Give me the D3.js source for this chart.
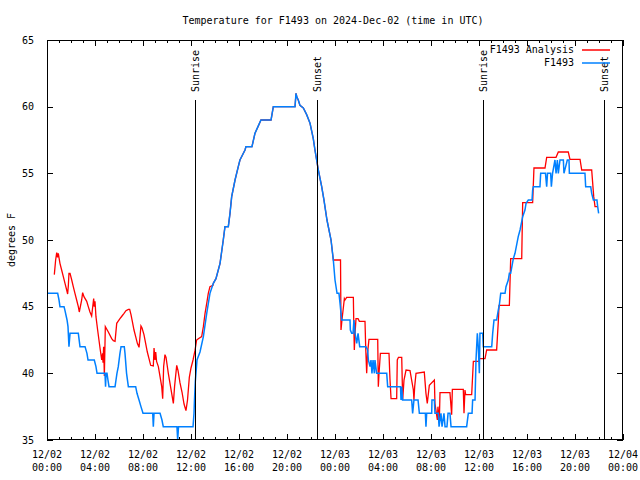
<!DOCTYPE html>
<html>
<head>
<meta charset="utf-8">
<script src="https://cdn.jsdelivr.net/npm/d3@7"></script>
<style>
  html, body { margin: 0; padding: 0; background: #fff; }
  svg { display: block; }
  text { font-family: "DejaVu Sans Mono", "Liberation Mono", monospace; font-size: 10px; fill: #000; }
</style>
</head>
<body>
<svg id="chart" width="640" height="480"></svg>
<script>
// ---------- data (hours since 2024-12-02 00:00 UTC, degrees F) ----------
const titleText = "Temperature for F1493 on 2024-Dec-02 (time in UTC)";
const yLabel = "degrees F";
const seriesNames = ["F1493 Analysis", "F1493"];
const seriesColors = ["#ff0000", "#0080ff"];
const yTicks = [35, 40, 45, 50, 55, 60, 65];

const sunHours = [12.33, 22.5, 36.33, 46.42];
const sunLabels = ["Sunrise", "Sunset", "Sunrise", "Sunset"];

const obsHours = [0.06,0.89,1.0,1.08,1.42,1.5,1.67,1.75,1.83,1.92,2.61,2.75,3.17,3.33,3.42,3.94,4.08,4.17,4.83,4.88,4.92,5.0,5.08,5.17,5.67,5.75,5.83,5.94,6.08,6.17,6.44,6.5,6.63,6.78,7.39,7.5,7.67,7.83,8.0,8.81,8.86,8.92,9.42,9.58,9.69,10.83,10.89,10.96,12.17,12.25,12.29,12.36,12.5,12.75,13.03,13.31,13.58,13.86,14.08,14.42,14.69,14.83,15.11,15.25,15.39,15.67,15.94,16.08,16.5,16.58,17.08,17.33,17.58,17.83,18.67,18.86,20.67,20.75,20.83,20.94,21.08,21.36,21.64,21.92,22.19,22.33,22.47,22.61,22.89,23.08,23.33,23.67,23.86,24.0,24.17,24.33,24.42,24.5,24.56,25.25,25.28,25.39,25.5,25.58,25.67,25.81,25.92,26.06,26.58,26.72,26.78,26.92,27.0,27.08,27.17,27.28,27.33,27.47,28.31,28.39,29.42,29.46,29.5,29.56,29.63,30.39,30.47,30.58,30.92,31.03,31.53,31.58,31.64,32.06,32.08,32.28,32.33,32.61,32.67,32.83,32.92,33.08,33.17,33.33,33.42,33.58,33.67,34.97,35.11,35.42,35.47,35.67,35.75,35.86,35.94,36.03,36.08,36.31,36.36,37.06,37.14,37.25,37.47,37.61,37.69,37.81,38.17,38.25,38.44,38.53,38.64,38.86,39.0,39.27,39.42,39.64,39.83,39.92,40.11,40.42,40.47,40.53,41.08,41.14,41.54,41.64,41.71,41.97,42.03,42.13,42.33,42.42,42.53,42.61,42.75,43.03,43.08,43.36,43.5,43.53,44.83,44.89,45.31,45.39,45.53,45.83,45.89,45.97];
const obsTemps = [46,46,45.5,45,45,44.7,44,43.5,42,43,43,42,42,41.5,41,41,40.5,40,40,39,40,40,39.5,39,39,39.5,40,40.5,41.5,42,42,41.5,40,39,39,38.5,38,37.5,37,37,36,37,37,36.5,36,36,35,36,36,37,38,39.4,41,41.6,42.75,44.5,46,46.75,47.1,48.25,50,51,51,52,53.25,54.5,55.5,56,56.75,57,57,58,58.5,59,59,60,60,61,60.7,60.5,60.1,59.9,59.4,58.75,57.6,56.75,56,55.25,54,53,51.5,50,48.5,47,46,46,45.25,44.5,44,44,43.25,43,43,44,43,42.25,43,42,42,41.75,41,40.5,41,40,41,40,41,40,40,39,39,39,38,39,38,38,37,38,38,37,37,36,37,37,38,38,37,37,36,37,36,37,36,36,37,37,36,36,37,37,38,38,41,43,42,40,43,43,42,42,43,44,44,44.75,45.1,46,46,46.5,47,47.5,47.5,48.6,49,50.25,50.75,51.75,52.25,52.75,53,53,53.75,54,54,55,55,54,55,55,54,55,56,55,56,55,56,56,55,56,56,55,55,54,54,53.5,53,53,52.5,52];

const anaHours = [0.61,0.72,0.81,0.88,0.94,1.08,1.22,1.36,1.5,1.64,1.72,1.78,1.83,1.92,2.06,2.19,2.33,2.47,2.61,2.69,2.89,2.97,3.08,3.31,3.44,3.58,3.72,3.89,3.94,4.0,4.08,4.22,4.33,4.44,4.56,4.63,4.67,4.72,4.78,4.86,5.11,5.39,5.53,5.67,5.81,5.92,6.08,6.25,6.42,6.58,6.78,6.89,7.0,7.11,7.25,7.39,7.53,7.67,7.83,7.92,8.08,8.22,8.36,8.5,8.64,8.86,8.92,9.0,9.06,9.13,9.28,9.42,9.56,9.64,9.72,9.83,9.92,10.11,10.39,10.53,10.63,10.81,10.92,11.08,11.25,11.42,11.58,11.71,11.86,12.0,12.17,12.33,12.47,12.61,12.89,13.03,13.17,13.31,13.44,13.58,13.83,13.86,14.08,14.42,14.69,14.83,15.11,15.25,15.39,15.67,15.94,16.08,16.5,16.58,17.08,17.33,17.58,17.83,18.67,18.86,20.67,20.75,20.83,20.94,21.08,21.36,21.64,21.92,22.19,22.33,22.47,22.61,22.89,23.08,23.33,23.67,23.86,24.46,24.5,24.58,24.78,24.83,24.97,25.53,25.56,25.61,25.67,25.75,25.92,26.03,26.5,26.56,26.64,26.71,26.83,27.56,27.61,27.67,27.78,28.5,28.58,28.67,29.14,29.19,29.29,29.56,29.64,29.75,29.92,30.25,30.53,30.58,30.64,30.75,31.44,31.58,31.69,31.86,32.28,32.33,32.53,32.58,32.69,32.75,33.58,33.72,33.78,34.69,34.75,34.83,34.89,35.39,35.53,36.0,36.03,36.5,36.64,37.47,37.61,37.67,38.53,38.64,39.56,39.64,40.47,40.58,41.5,41.64,42.42,42.61,43.44,43.58,44.42,44.56,45.39,45.56,45.67,45.89];
const anaTemps = [47.4,48.5,49.05,48.7,49,48.25,47.75,47.25,46.75,46.25,45.95,46.6,47.5,47.5,47,46.5,46,45.5,45,44.6,45.5,46.05,45.75,45.4,45,44.6,44.3,45.6,45.0,45.4,44.25,43.25,42.5,41.75,41,41.5,40.8,42,39.8,43.5,43.1,42.6,42.45,42.4,43.75,43.9,44.1,44.3,44.5,44.7,44.8,44.8,44.4,43.9,43.25,42.75,42.25,41.95,43.55,43.4,42.9,42.25,41.6,41.1,40.6,40.55,41.9,41,41.6,40.9,40.5,39.75,39,38.1,40.5,41.4,41.2,40,38.5,37.75,39,40.6,40.2,39.3,38.6,37.7,37.2,38,39.7,40.4,41,41.7,42.5,42.6,42.75,43.5,44.5,45.25,46,46.5,46.6,46.75,47.1,48.25,50,51,51,52,53.25,54.5,55.5,56,56.75,57,57,58,58.5,59,59,60,60,61,60.7,60.5,60.1,59.9,59.4,58.75,57.6,56.75,56,55.25,54,53,51.5,50,48.5,48.5,43.25,44,45.6,45.5,45.7,45.7,44,41.75,43,44.1,44.1,43.9,43.9,41.9,40,41.5,42.55,42.55,39,40,41.5,41.5,39.6,38.1,38.1,41,41.2,41.2,38,39.5,40.25,40.2,38.75,38,39,40,40.1,38.5,37.75,39.1,39.5,37.75,36.5,37.5,36.25,38.55,38.55,36.9,38.8,38.8,37,38.75,38.4,38.4,40.9,40.9,41.1,41.1,41.75,41.75,43.9,45.1,45.1,48.6,48.6,52.8,52.8,55.4,55.4,56.2,56.2,56.6,56.6,56.05,56.05,55.25,55.25,53.25,52.5,52.5];

// ---------- layout ----------
const svg = d3.select("#chart");
const L = 47, R = 623, T = 40, B = 440;
const t0 = Date.UTC(2024, 11, 2);
const toDate = h => new Date(t0 + h * 3600e3);

const x = d3.scaleUtc().domain([new Date(t0), new Date(t0 + 48 * 3600e3)]).range([L, R]);
const y = d3.scaleLinear().domain([35, 65]).range([B, T]);

const anaData = anaHours.map((h, i) => ({ t: toDate(h), v: anaTemps[i] }));
const obsData = obsHours.map((h, i) => ({ t: toDate(h), v: obsTemps[i] }));

svg.append("defs").append("clipPath").attr("id", "clip")
  .append("rect").attr("x", L).attr("y", T).attr("width", R - L).attr("height", B - T);

const line = d3.line().x(d => x(d.t)).y(d => y(d.v));
const g = svg.append("g").attr("clip-path", "url(#clip)");
g.append("path").datum(anaData).attr("d", line)
  .attr("fill", "none").attr("stroke", seriesColors[0]).attr("stroke-width", 1.3);
g.append("path").datum(obsData).attr("d", line)
  .attr("fill", "none").attr("stroke", seriesColors[1]).attr("stroke-width", 1.5);

// sunrise / sunset lines
sunHours.forEach((h, i) => {
  const sx = Math.round(x(toDate(h))) + 0.5;
  svg.append("line").attr("x1", sx).attr("x2", sx).attr("y1", 100).attr("y2", B)
    .attr("stroke", "#000").attr("stroke-width", 1).attr("shape-rendering", "crispEdges");
  svg.append("text").attr("transform", `translate(${sx},92) rotate(-90)`)
    .attr("dy", "0.35em").attr("text-anchor", "start").text(sunLabels[i]);
});

// ---------- axes ----------
const majorTicks = x.ticks(d3.utcHour.every(4));
const minorTicks = x.ticks(d3.utcHour.every(1));
const fmtDate = d3.utcFormat("%m/%d"), fmtTime = d3.utcFormat("%H:%M");

const axisBottom = svg.append("g").attr("transform", `translate(0,${B})`)
  .call(d3.axisBottom(x).tickValues(majorTicks).tickSize(-6).tickFormat(""));
const axisBottomMinor = svg.append("g").attr("transform", `translate(0,${B})`)
  .call(d3.axisBottom(x).tickValues(minorTicks).tickSize(-3).tickFormat(""));
const axisTop = svg.append("g").attr("transform", `translate(0,${T})`)
  .call(d3.axisTop(x).tickValues(majorTicks).tickSize(-6).tickFormat(""));
const axisTopMinor = svg.append("g").attr("transform", `translate(0,${T})`)
  .call(d3.axisTop(x).tickValues(minorTicks).tickSize(-3).tickFormat(""));
const axisLeft = svg.append("g").attr("transform", `translate(${L},0)`)
  .call(d3.axisLeft(y).tickValues(yTicks).tickSize(-6).tickPadding(13).tickFormat(d3.format("d")));
const axisRight = svg.append("g").attr("transform", `translate(${R},0)`)
  .call(d3.axisRight(y).tickValues(yTicks).tickSize(-6).tickFormat(""));

[axisBottom, axisBottomMinor, axisTop, axisTopMinor, axisLeft, axisRight].forEach(a => {
  a.select(".domain").remove();
  a.selectAll(".tick line").attr("stroke", "#000").attr("shape-rendering", "crispEdges");
});
axisLeft.selectAll(".tick text").attr("font-family", null).attr("font-size", null).attr("fill", "#000");

// two-line date labels
const xl = svg.append("g");
majorTicks.forEach(d => {
  const tx = x(d);
  xl.append("text").attr("x", tx).attr("y", 458).attr("text-anchor", "middle").text(fmtDate(d));
  xl.append("text").attr("x", tx).attr("y", 471).attr("text-anchor", "middle").text(fmtTime(d));
});

// border
svg.append("rect").attr("x", L + 0.5).attr("y", T + 0.5).attr("width", R - L - 1).attr("height", B - T - 1)
  .attr("fill", "none").attr("stroke", "#000").attr("shape-rendering", "crispEdges");

// title & y label
svg.append("text").attr("x", 333).attr("y", 24).attr("text-anchor", "middle").text(titleText);
svg.append("text").attr("transform", "translate(11,240) rotate(-90)").attr("dy", "0.35em")
  .attr("text-anchor", "middle").text(yLabel);

// legend
const lg = svg.append("g");
seriesNames.forEach((n, i) => {
  const ly = 49 + i * 13;
  lg.append("text").attr("x", 574).attr("y", ly).attr("dy", "0.35em").attr("text-anchor", "end").text(n);
  lg.append("line").attr("x1", 582).attr("x2", 610).attr("y1", ly + 1).attr("y2", ly + 1)
    .attr("stroke", seriesColors[i]).attr("stroke-width", 1.5);
});
</script>
</body>
</html>
